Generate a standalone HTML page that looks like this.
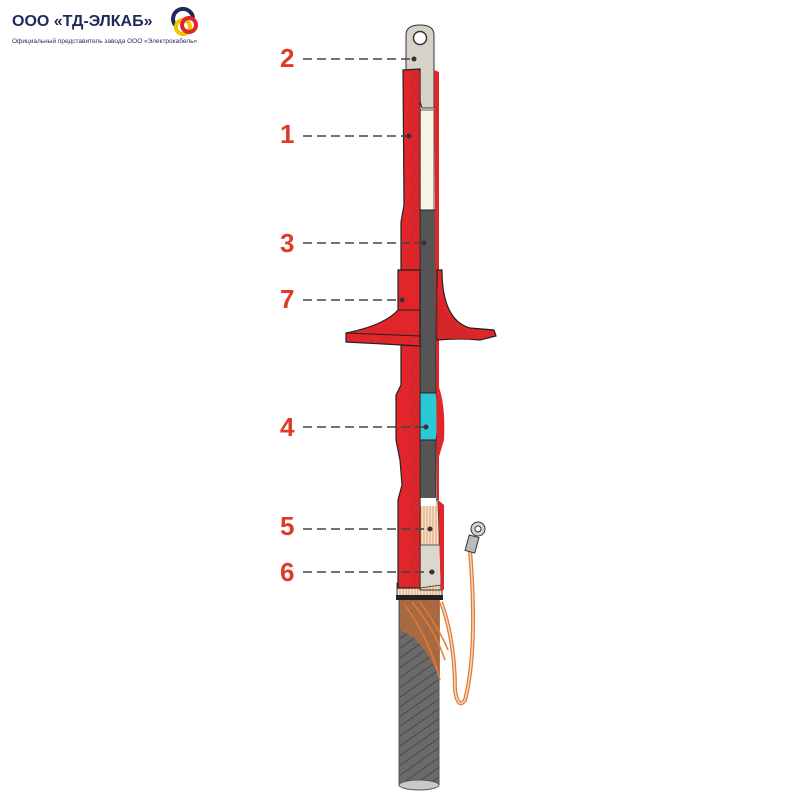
<!DOCTYPE html>
<html><head><meta charset="utf-8"><style>
html,body{margin:0;padding:0;background:#fff;width:800px;height:800px;overflow:hidden}
svg{display:block}
</style></head><body>
<svg width="800" height="800" viewBox="0 0 800 800" xmlns="http://www.w3.org/2000/svg">
<defs>
<pattern id="hatch" width="4" height="4" patternUnits="userSpaceOnUse" patternTransform="rotate(45)"><rect width="4" height="4" fill="#d8262b"/><line x1="0" y1="0" x2="0" y2="4" stroke="#a82226" stroke-width="1.2"/></pattern>
<pattern id="cab" width="8" height="8" patternUnits="userSpaceOnUse" patternTransform="rotate(-35)"><rect width="8" height="8" fill="#6a6a6a"/><line x1="0" y1="0" x2="8" y2="0" stroke="#3e3e3e" stroke-width="1.5"/></pattern>
<pattern id="cop" width="3" height="4" patternUnits="userSpaceOnUse"><rect width="3" height="4" fill="#f3e3cf"/><line x1="1" y1="0" x2="1" y2="4" stroke="#e38a4b" stroke-width="0.8"/></pattern>
</defs>
<!-- logo -->
<text x="12" y="26" font-family="Liberation Sans, sans-serif" font-weight="bold" font-size="16" fill="#1e2b5a">ООО «ТД-ЭЛКАБ»</text>
<text x="12" y="43" font-family="Liberation Sans, sans-serif" font-size="6.5" fill="#1e2b5a">Официальный представитель завода ООО «Электрокабель»</text>
<path d="M176 26 A10 10 0 1 1 193 18" fill="none" stroke="#1e2b5a" stroke-width="4"/>
<circle cx="183" cy="27" r="7" fill="none" stroke="#f5c400" stroke-width="4"/>
<circle cx="189" cy="25" r="7" fill="none" stroke="#e0262b" stroke-width="4"/>
<!-- cable -->
<rect x="399" y="600" width="40" height="185" fill="url(#cab)" stroke="#555" stroke-width="1"/>
<ellipse cx="419" cy="785" rx="20" ry="5" fill="#c8c8c8" stroke="#555"/>
<path d="M400 600 L440 600 L440 680 Q425 640 400 630 Z" fill="#b86a3a" opacity="0.8"/>
<path d="M405 605 Q430 640 440 680 M412 602 Q435 630 445 660 M420 602 Q440 630 448 650" stroke="#e37a3a" stroke-width="1.5" fill="none"/>
<!-- ground wire -->
<path d="M441 602 Q455 640 455 690 Q458 710 465 700 Q478 650 470 550" stroke="#e37a3a" stroke-width="4" fill="none"/>
<path d="M441 602 Q455 640 455 690 Q458 710 465 700 Q478 650 470 550" stroke="#f6d8c0" stroke-width="1.5" fill="none"/>
<rect x="467" y="536" width="10" height="16" fill="#bbb" stroke="#333" transform="rotate(15 472 544)"/>
<circle cx="478" cy="529" r="7" fill="#d6d2c8" stroke="#333"/><circle cx="478" cy="529" r="3" fill="#fff" stroke="#333"/>
<!-- black ring & copper base -->
<rect x="397" y="583" width="45" height="14" fill="url(#cop)" stroke="#333"/>
<rect x="396" y="595" width="47" height="5" fill="#222"/>
<!-- lug -->
<path d="M406 57 L406 35 Q406 25 420 25 Q434 25 434 35 L434 108 L422 108 L418 95 L418 70 L406 70 Z" fill="#d6d2c8" stroke="#333"/>
<circle cx="420" cy="38" r="6.5" fill="#fff" stroke="#333" stroke-width="1.5"/>
<!-- white insulation -->
<rect x="420" y="110" width="14" height="100" fill="#f8f3e6" stroke="#333" stroke-width="0.8"/>
<!-- dark core -->
<rect x="419" y="210" width="17" height="292" fill="#555" stroke="#222"/>
<path d="M419 393 L436 393 Q440 415 436 440 L419 440 Z" fill="#2bc9d4" stroke="#222"/>
<!-- copper/beige right lower -->
<path d="M420 500 L438 500 L441 590 L420 590 Z" fill="url(#cop)" stroke="#333"/>
<path d="M420 545 L440 545 L441 585 L420 588 Z" fill="#dcd6cc" stroke="#333" stroke-width="0.8"/>
<rect x="420" y="498" width="16" height="8" fill="#fff"/>
<!-- right red strip -->
<path d="M434 70 L439 72 L439 500 L437 500 Z" fill="#e0262b"/>
<path d="M436 380 Q446 400 444 440 L438 460 Z" fill="#e0262b"/>
<path d="M438 500 L444 505 L444 590 L441 590 Z" fill="#e0262b"/>
<!-- left red tube -->
<path d="M403 70 L420 69 L420 588 L398 588 L398 500 L402 485 L400 460 L396 440 L396 395 L401 385 L401 345 L418 345 L418 313 L401 313 L401 222 L404 205 L403 70 Z" fill="#e0262b" stroke="#222" stroke-width="1.2"/>
<rect x="410" y="72" width="10" height="515" fill="url(#hatch)" opacity="0.55"/>
<!-- left shed -->
<path d="M398 270 L420 270 L420 346 L346 342 L346 333 Q385 325 398 310 Z" fill="#e0262b" stroke="#222" stroke-width="1.2"/>
<line x1="346" y1="333" x2="420" y2="336" stroke="#222"/>
<line x1="398" y1="310" x2="420" y2="310" stroke="#222"/>
<!-- right shed -->
<path d="M437 270 L442 270 Q442 320 470 328 L494 330 L496 336 L480 340 Q460 338 437 340 Z" fill="#e0262b" stroke="#222" stroke-width="1.2"/>
<path d="M437 285 Q440 325 478 335 L470 340 L437 338 Z" fill="url(#hatch)" opacity="0.7"/>
<!-- labels -->
<g font-family="Liberation Sans, sans-serif" font-weight="bold" font-size="26" fill="#e03a26">
<text x="280" y="67">2</text><text x="280" y="143">1</text><text x="280" y="252">3</text><text x="280" y="308">7</text><text x="280" y="436">4</text><text x="280" y="535">5</text><text x="280" y="581">6</text>
</g>
<g stroke="#444" stroke-width="1.4" stroke-dasharray="9,5" fill="none">
<line x1="303" y1="59" x2="414" y2="59"/><line x1="303" y1="136" x2="409" y2="136"/><line x1="303" y1="243" x2="424" y2="243"/><line x1="303" y1="300" x2="402" y2="300"/><line x1="303" y1="427" x2="426" y2="427"/><line x1="303" y1="529" x2="430" y2="529"/><line x1="303" y1="572" x2="432" y2="572"/>
</g>
<g fill="#333"><circle cx="414" cy="59" r="2.5"/><circle cx="409" cy="136" r="2.5"/><circle cx="424" cy="243" r="2.5"/><circle cx="402" cy="300" r="2.5"/><circle cx="426" cy="427" r="2.5"/><circle cx="430" cy="529" r="2.5"/><circle cx="432" cy="572" r="2.5"/></g>
</svg>
</body></html>
